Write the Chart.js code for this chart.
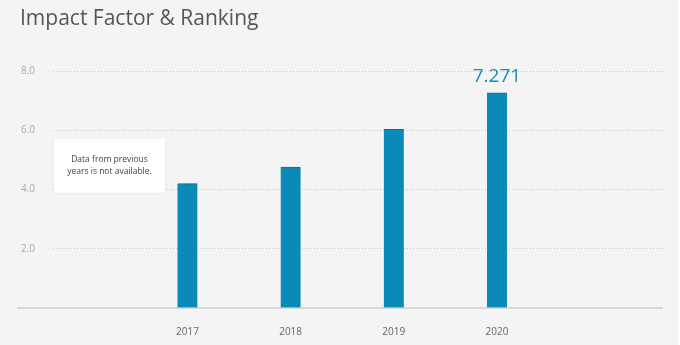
<!DOCTYPE html>
<html>
<head>
<meta charset="utf-8">
<script src="https://cdn.jsdelivr.net/npm/chart.js@4.4.1/dist/chart.umd.min.js"></script>
<style>
  html, body { margin: 0; padding: 0; background: #fff; }
  #wrap { width: 678px; height: 345px; background: #f4f4f4; }
</style>
</head>
<body>
<div id="wrap"><canvas id="ifChart" width="678" height="345"></canvas></div>
<script>
// Impact factor per year
const years = [2017, 2018, 2019, 2020];
const impactFactor = [4.20, 4.76, 6.04, 7.271];
const yTicks = [0, 2, 4, 6, 8];
const noteLines = ['Data from previous', 'years is not available.'];

const barColor = '#0b89b8';

// baseline, note box and value label on the last bar
const extras = {
    id: 'extras',
    beforeDatasetsDraw(chart) {
        const { ctx, chartArea, scales } = chart;
        const y0 = scales.y.getPixelForValue(0);
        ctx.save();
        ctx.strokeStyle = '#cfcfcf';
        ctx.lineWidth = 1.5;
        ctx.beginPath();
        ctx.moveTo(17, y0);
        ctx.lineTo(chartArea.right, y0);
        ctx.stroke();

        // note box
        const bx = chartArea.left + 1;
        const by = scales.y.getPixelForValue(5.72);
        const bw = 111, bh = 54;
        ctx.shadowColor = 'rgba(0,0,0,0.08)';
        ctx.shadowBlur = 3;
        ctx.fillStyle = '#ffffff';
        ctx.fillRect(bx, by, bw, bh);
        ctx.shadowBlur = 0;
        ctx.fillStyle = '#444';
        ctx.font = '8.5px "Open Sans", sans-serif';
        ctx.textAlign = 'center';
        ctx.textBaseline = 'middle';
        noteLines.forEach((t, i) => {
            ctx.fillText(t, bx + bw / 2, by + 21 + i * 12);
        });
        ctx.restore();
    },
    afterDatasetsDraw(chart) {
        const { ctx } = chart;
        const bars = chart.getDatasetMeta(0).data;
        const last = bars[bars.length - 1];
        ctx.save();
        ctx.fillStyle = '#1a8db5';
        ctx.font = '19px "Open Sans", sans-serif';
        ctx.textAlign = 'center';
        ctx.textBaseline = 'bottom';
        ctx.fillText(String(impactFactor[impactFactor.length - 1]), last.x, last.y - 7);
        ctx.restore();
    }
};

const ctx = document.getElementById('ifChart').getContext('2d');
const ifChart = new Chart(ctx, {
    type: 'bar',
    data: {
        datasets: [{
            label: 'Impact Factor',
            data: years.map((yr, i) => ({ x: yr, y: impactFactor[i] })),
            backgroundColor: barColor,
            borderColor: '#0a6f95',
            borderWidth: { top: 1, left: 0, right: 0, bottom: 0 },
            borderSkipped: 'bottom',
            barThickness: 20
        }]
    },
    options: {
        responsive: false,
        animation: false,
        layout: {
            padding: { left: 20, right: 15, top: 6, bottom: 7 }
        },
        plugins: {
            legend: { display: false },
            tooltip: { enabled: false },
            title: {
                display: true,
                text: 'Impact Factor & Ranking',
                align: 'start',
                color: '#555',
                font: { family: '"Open Sans", sans-serif', size: 21, weight: '400' },
                padding: { top: 0, bottom: 40 }
            }
        },
        scales: {
            x: {
                type: 'linear',
                offset: false,
                min: 2015.697,
                max: 2021.609,
                grid: { display: false, drawTicks: false },
                border: { display: false },
                afterBuildTicks(scale) {
                    scale.ticks = years.map(v => ({ value: v }));
                },
                afterFit(scale) {
                    scale.height = 30;
                },
                ticks: {
                    padding: 18,
                    maxRotation: 0,
                    color: '#666',
                    font: { family: '"Open Sans", sans-serif', size: 10 },
                    callback: v => String(v)
                }
            },
            y: {
                min: 0,
                max: 8,
                afterBuildTicks(scale) {
                    scale.ticks = yTicks.map(v => ({ value: v }));
                },
                afterFit(scale) {
                    scale.width = 33;
                },
                grid: {
                    drawTicks: false,
                    color: c => c.tick.value === 0 ? 'rgba(0,0,0,0)' : '#c9c9c9',
                    lineWidth: 1
                },
                border: { display: false, dash: [1, 2] },
                ticks: {
                    padding: 18,
                    color: '#aaa',
                    font: { family: '"Open Sans", sans-serif', size: 10 },
                    callback: v => v === 0 ? '' : v.toFixed(1)
                }
            }
        }
    },
    plugins: [extras]
});
</script>
</body>
</html>
